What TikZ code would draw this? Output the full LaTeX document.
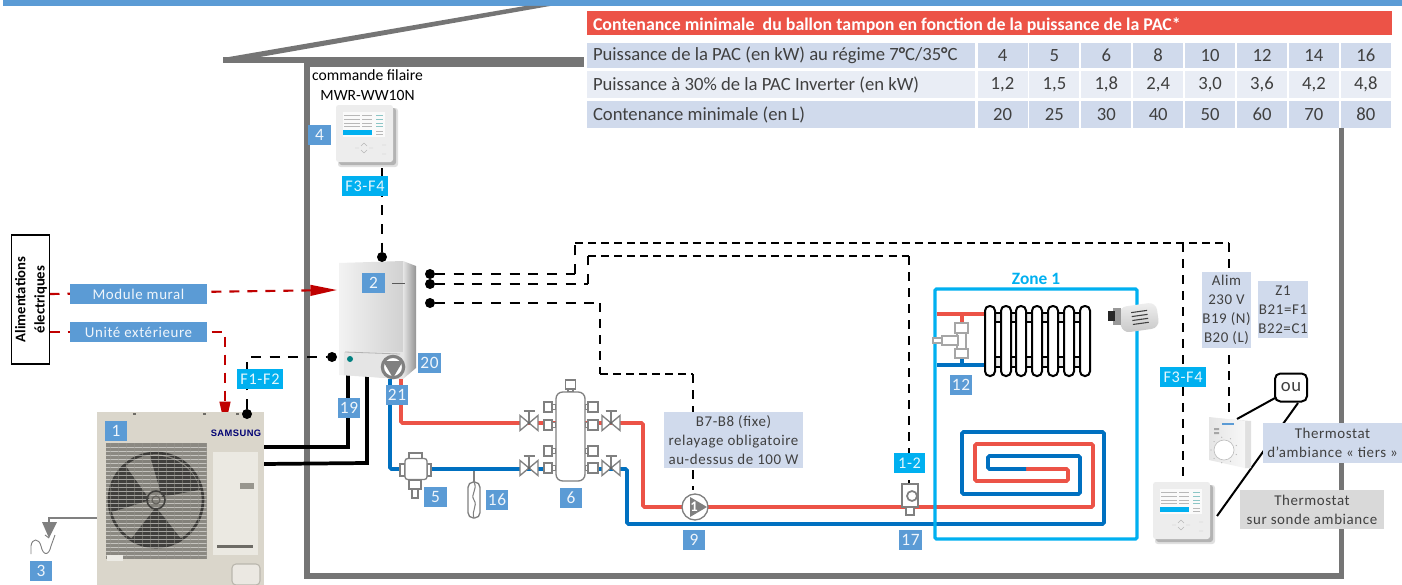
\documentclass[tikz,border=0pt]{standalone}
\usepackage{fontspec}
\setmainfont{Carlito}
\newfontfamily\spacedfont[LetterSpace=4]{Carlito}
\newfontfamily\brandfont[LetterSpace=5]{Liberation Sans}
\usetikzlibrary{arrows.meta,shapes.geometric}
\pgfdeclarelayer{lines}
\pgfsetlayers{lines,main}
\definecolor{lblblue}{HTML}{5B9BD5}
\definecolor{lblcyan}{HTML}{00B0F0}
\definecolor{lblpale}{HTML}{D0DAEC}
\definecolor{lblgrey}{HTML}{D9D9D9}
\definecolor{rowpale}{HTML}{E9EDF5}
\definecolor{hotred}{HTML}{EC5347}
\definecolor{coldblue}{HTML}{0070C0}
\definecolor{wallgrey}{HTML}{757575}
\definecolor{partgrey}{HTML}{808080}
\definecolor{darktext}{HTML}{404040}
\definecolor{feedred}{HTML}{C00000}
\definecolor{unitbeige}{HTML}{DAD6CB}
\newcommand{\boxlab}[7]{\node[#1,minimum width={(#5-#3)*0.75pt},minimum height={(#6-#4)*0.75pt}] (#2) at ({(#3+#5)/2},{(#4+#6)/2}) {#7};}
\tikzset{
  x=0.75pt,y=-0.75pt,
  every node/.style={inner sep=0pt,outer sep=0pt,align=center},
  numlab/.style={rectangle,fill=lblblue,text=white!90!lblblue,font=\spacedfont\fontsize{13}{15}\selectfont},
  widelab/.style={rectangle,fill=lblblue,text=white!90!lblblue,font=\spacedfont\fontsize{11.2}{14}\selectfont},
  buslab/.style={rectangle,fill=lblcyan,text=white!90!lblcyan,font=\spacedfont\fontsize{12.2}{14}\selectfont},
  palelab/.style={rectangle,fill=lblpale,text=darktext,font=\spacedfont\fontsize{11.2}{14.3}\selectfont},
  greylab/.style={rectangle,fill=lblgrey,text=darktext,font=\spacedfont\fontsize{11.2}{14.3}\selectfont},
  tabhead/.style={rectangle,fill=hotred,text=white},
  tabcell/.style={rectangle,text=darktext,font=\fontsize{14}{16}\selectfont},
  dot/.style={circle,fill=black,minimum size=7.5pt},
  wirea/.style={black,line width=1.8pt,dash pattern=on 7.5pt off 6.5pt},
  wireb/.style={black,line width=1.3pt,dash pattern=on 6pt off 3.8pt},
  wirec/.style={black,line width=1.6pt,dash pattern=on 6.5pt off 5.5pt},
  feed/.style={feedred,line width=1.6pt,dash pattern=on 7.5pt off 6pt},
  hot/.style={hotred,line width=2.7pt,rounded corners=1pt},
  cold/.style={coldblue,line width=2.7pt,rounded corners=1pt},
  fridge/.style={black,line width=2.8pt},
  part/.style={draw=partgrey,line width=1pt,fill=white},
  partr/.style={draw=partgrey,line width=1pt,fill=white,rounded corners=2pt},
  ctrlpic/.pic={
    \fill[black,opacity=.12,rounded corners=2pt] (2,3) rectangle (62,62);
    \fill[black,opacity=.2,rounded corners=2pt] (3,3) rectangle (60,60);
    \fill[white!93!black,rounded corners=2pt] (0,0) rectangle (57,57);
    \fill[white!98!black] (7,7) rectangle (49,32);
    \fill[lblcyan] (7,25) rectangle (36,30);
    \foreach \yy in {10,14,18,21}{
      \draw[black!28,line width=.3pt] (8,\yy) -- (24,\yy);
      \draw[black!28,line width=.3pt] (26,\yy) -- (36,\yy);
      \draw[teal!45,line width=.3pt] (40,\yy) -- (47,\yy);
    }
    \draw[black!28,line width=.3pt] (40,26) -- (47,26) (40,29) -- (47,29);
    \draw[black!28,line width=.35pt] (28,38) -- (25,41) (28,38) -- (31,41) (28,48) -- (25,45) (28,48) -- (31,45) (19,43) -- (23,43) (33,43) -- (37,43) (46,40) -- (50,40) (46,49) -- (50,49);
  },
  valvepic/.pic={
    \draw[part,line join=miter] (-9,-7.5) -- (9,7.5) -- (9,-7.5) -- (-9,7.5) -- cycle;
    \draw[partgrey,line width=1pt] (0,0) -- (0,-12) (-5.5,-12) -- (5.5,-12);
    \fill[black!60] (0,0) circle (1.6);
  },
}
\begin{document}
\begin{tikzpicture}
\useasboundingbox (0,0) rectangle (1402,585);

% ---------- anchor points of the wiring
\coordinate (c4out) at (382,168);
\coordinate (bendA) at (575,274);
\coordinate (bendA2) at (575,243);
\coordinate (teeA) at (1183,243);
\coordinate (cornerA) at (1229,243);
\coordinate (bendB) at (588,284);
\coordinate (bendB2) at (588,256);
\coordinate (cornerB) at (909,256);
\coordinate (bendC) at (600,303);
\coordinate (bendC2) at (600,374);
\coordinate (cornerC) at (693,374);

% ---------- outdoor unit
\fill[unitbeige] (97,412) rectangle (264,585);
\fill[black!36!unitbeige] (106,443) rectangle (207,559);
\fill[black!40!unitbeige] (156,500) circle (48);
\draw[black!72!unitbeige,line width=2pt] (156,500) circle (47);
\fill[black!70!unitbeige] (150,456) arc (263:345:46) -- (162,497) -- cycle;
\fill[black!70!unitbeige] (112,512) arc (165:228:46) -- (150,500) -- cycle;
\fill[black!70!unitbeige] (182,540) arc (58:125:46) -- (156,507) -- cycle;
\foreach \yy in {447,451,...,557}{\draw[white!75!unitbeige,line width=.55pt,opacity=.55] (106,\yy) -- (207,\yy);}
\foreach \xx in {110,118,...,206}{\draw[black!30!unitbeige,line width=.4pt,opacity=.5] (\xx,443) -- (\xx,559);}
\draw[black!70!unitbeige,line width=1.2pt] (156,500) circle (9);
\draw[black!55!unitbeige,line width=.8pt] (156,500) circle (4);
\fill[white!45!unitbeige] (213,452) rectangle (258,555);
\fill[black!30!unitbeige] (240,483) rectangle (254,489);
\fill[black!50!unitbeige] (217,545) rectangle (253,548);
\draw[black!15!unitbeige,line width=.8pt,fill=white!45!unitbeige,rounded corners=3pt] (232,564) rectangle (260,585);
\fill[white!50!unitbeige] (107,555) rectangle (123,561);
\foreach \xx in {133,203,236}{\fill[black!50!unitbeige] (\xx,413) rectangle +(3,2);}
\node[font=\brandfont\bfseries\fontsize{7}{8}\selectfont,text=blue!45!black] (brand) at (236,433) {SAMSUNG};

% ---------- indoor wall module
\shade[left color=white!95!black,right color=white!82!black] (339,263) -- (403,261) -- (403,379) -- (339,375) -- cycle;
\shade[left color=white!90!black,right color=black!42] (403,261) -- (416,266) -- (416,368) -- (403,379) -- cycle;
\fill[white!90!black] (344,352) -- (403,352) -- (403,379) -- (344,375) -- cycle;
\draw[black!30,line width=.6pt] (345,352) -- (400,354);
\fill[teal] (350,359) circle (3);
\draw[black!65,line width=.7pt] (392,283) -- (405,283);
\node[circle,draw=partgrey,line width=2.4pt,fill=white,minimum size=16pt] (pumpA) at (393,367) {};
\fill[partgrey] (383,361) -- (403,361) -- (393,378) -- cycle;

% ---------- controller and room thermostats
\pic at (336,105) {ctrlpic};
\pic at (1153,482) {ctrlpic};
\fill[black!12] (1212,418) -- (1251,421) -- (1251,468) -- (1245,468) -- (1245,421) -- cycle;
\shade[left color=white!90!black,right color=white!97!black] (1209,417) -- (1245,421) -- (1245,468) -- (1209,460) -- cycle;
\draw[black!25,line width=.5pt,fill=white] (1224,450) circle (10);
\fill[black!35] (1214,428) rectangle (1219,430) (1214,432) rectangle (1219,434);
\fill[lblblue] (1222,423) rectangle (1234,425);
\foreach \ang in {20,60,...,340}{\fill[black!30] (1224,450) ++(\ang:13) circle (.6);}

% ---------- hydraulic parts
\node[part,rectangle,minimum width=7.5pt,minimum height=6.7pt] (capM) at (570.5,384.5) {};
\foreach \yy in {407,425,451,468}{
  \draw[part] (552,\yy-2.5) rectangle (556,\yy+2.5);
  \draw[part] (585,\yy-2.5) rectangle (588,\yy+2.5);
  \draw[part] (544,\yy-5) rectangle (552,\yy+5);
  \draw[part] (588,\yy-5) rectangle (598,\yy+5);
}
\draw[part] (568,389) rectangle (573,392);
\node[part,rectangle,rounded corners=5pt,minimum width=21.75pt,minimum height=66.75pt] (tank) at (570.5,436.5) {};
\pic at (529,423) {valvepic};
\pic at (611,423) {valvepic};
\pic at (529,468) {valvepic};
\pic at (611,468) {valvepic};
\coordinate (vTL) at (529,423);
\coordinate (vTR) at (611,423);
\coordinate (vBL) at (529,469);
\coordinate (vBR) at (611,469);

\draw[part] (409,453) rectangle (422,459);
\draw[part] (400,464) rectangle (405,476);
\draw[part] (427,464) rectangle (431,476);
\draw[part] (412,489) rectangle (418,498);
\draw[part] (409,480) rectangle (421,489);
\node[partr,rectangle,minimum width=16.5pt,minimum height=15.75pt] (mixer) at (416,469) {};

\draw[partgrey,line width=1pt] (474,471) -- (474,482);
\node[part,rectangle,rounded corners=4pt,minimum width=9pt,minimum height=27pt] (expan) at (474,500) {};
\draw[partgrey,line width=.8pt] (474,482) .. controls (478,490) and (470,494) .. (474,500) .. controls (478,506) and (471,511) .. (474,518);

\node[part,circle,minimum size=19.5pt] (pumpB) at (695,507) {};
\fill[partgrey] (690,497) -- (707,507) -- (690,517) -- cycle;
\node[text=white,font=\bfseries\fontsize{11}{12}\selectfont] (pumpnum) at (694,507) {1};

\node[part,rectangle,line width=1.3pt,minimum width=12pt,minimum height=17pt] (sensor) at (910,495.5) {};
\draw[part,line width=1.3pt] (906,507) rectangle (914,515);
\draw[part,line width=1.3pt] (912,496) circle (5);
\coordinate (sensorTop) at (909,484);

% radiator
\draw[black,line width=1.4pt,fill=white!92!black] (990,313) rectangle (1085,322);
\draw[black,line width=1.4pt,fill=white!92!black] (990,357) rectangle (1085,367);
\foreach \xx in {990,1006,1021,1037,1053,1069,1085}{
  \draw[black,line width=1.5pt,fill=white,rounded corners=3.5pt] (\xx-5,306) rectangle (\xx+5,376);
}
\coordinate (radTop) at (985,314);
\coordinate (radBot) at (985,365);
\coordinate (zoneTop) at (937,314);
\coordinate (zoneBot) at (937,365);
\draw[draw=black!35,line width=1.2pt,fill=white] (955,323) rectangle (968,333);
\draw[draw=black!35,line width=1.2pt,fill=white] (957,333) rectangle (966,349);
\draw[draw=black!35,line width=1.2pt,fill=white] (955,349) rectangle (968,358);
\draw[draw=black!35,line width=1.2pt,fill=white] (942,336) rectangle (958,345);
\draw[draw=black!35,line width=1.2pt,fill=white] (933,338) rectangle (942,343);
\coordinate (radvT) at (962,323);
\coordinate (radvB) at (962,358);

% thermostatic head
\begin{scope}[rotate around={8:(1136,318)}]
\shade[top color=white!94!black,bottom color=white!78!black,rounded corners=6pt] (1120,305) rectangle (1158,331);
\foreach \yy in {312,316,320,324}{\draw[black!75,line width=.8pt] (1132,\yy) -- (1148,\yy);}
\end{scope}
\fill[black!40] (1113,308) rectangle (1121,325);
\fill[black!85] (1108,311) rectangle (1115,321);

% ---------- dots
\node[dot] (dTop) at (382,257) {};
\node[dot] (d1) at (430,274) {};
\node[dot] (d2) at (430,284) {};
\node[dot] (d3) at (430,303) {};
\node[dot] (dF) at (332,357) {};
\node[dot] (dU) at (247,414) {};

% ---------- labels
\node[rectangle,draw=black,line width=1.2pt,fill=white,minimum width=28.5pt,minimum height=96.5pt] (alim) at (30.5,299.5) {};
\node[rotate=90,text=black,font=\fontsize{11}{14.5}\selectfont\bfseries] (alimtxt) at (31,299.5) {Alimentations\\électriques};
\boxlab{widelab}{lMod}{70}{284}{207}{304}{Module mural}
\boxlab{widelab}{lUni}{70}{322}{207}{342}{Unité extérieure}
\boxlab{numlab}{n1}{105}{421}{127}{441}{1}
\boxlab{numlab}{n2}{362}{273}{385}{293}{2}
\boxlab{numlab}{n3}{30}{561}{52}{581}{3}
\boxlab{numlab}{n4}{308}{125}{331}{145}{4}
\boxlab{numlab}{n5}{424}{487}{447}{507}{5}
\boxlab{numlab}{n6}{560}{488}{582}{508}{6}
\boxlab{numlab}{n9}{683}{530}{705}{550}{9}
\boxlab{numlab}{n12}{950}{375}{972}{395}{12}
\boxlab{numlab}{n16}{486}{490}{508}{510}{16}
\boxlab{numlab}{n17}{899}{530}{922}{550}{17}
\boxlab{numlab}{n19}{338}{398}{360}{418}{19}
\boxlab{numlab}{n20}{418}{353}{441}{373}{20}
\boxlab{numlab}{n21}{386}{385}{408}{405}{21}
\boxlab{buslab}{bF34}{342}{176}{388}{196}{F3-F4}
\boxlab{buslab}{bF12}{237}{369}{283}{389}{F1-F2}
\boxlab{buslab}{b12}{894}{453}{925}{473}{1-2}
\boxlab{buslab}{bF34r}{1160}{367}{1206}{387}{F3-F4}
\boxlab{palelab}{lB78}{664}{412}{803}{468}{B7-B8 (fixe)\\relayage obligatoire\\au-dessus de 100 W}
\boxlab{palelab}{lAlim}{1202}{272}{1251}{348}{Alim\\230 V\\B19 (N)\\B20 (L)}
\boxlab{palelab}{lZ1}{1258}{281}{1308}{338}{Z1\\B21=F1\\B22=C1}
\boxlab{palelab}{lTiers}{1263}{423}{1402}{463}{Thermostat\\d’ambiance « tiers »}
\boxlab{greylab}{lSonde}{1240}{490}{1384}{529}{Thermostat\\sur sonde ambiance}
\node[rectangle,draw=black,line width=1.5pt,rounded corners=4pt,fill=white,minimum width=24pt,minimum height=21pt,text=darktext,font=\spacedfont\fontsize{14}{16}\selectfont] (ou) at (1291,387.5) {ou};
\node[text=black,font=\fontsize{11.7}{14}\selectfont] (cmd) at (367.5,85) {commande filaire\\[.6pt]MWR-WW10N};
\node[text=lblcyan,font=\bfseries\fontsize{13}{15}\selectfont] (zone) at (1036,279) {Zone 1};

% ---------- table
\boxlab{tabhead}{tHead}{587}{11}{1392}{35}{}
\node[anchor=west,text=white,font=\bfseries\fontsize{13.4}{15}\selectfont] (tHeadTxt) at (593,25.5) {Contenance minimale\ \ du ballon tampon en fonction de la puissance de la PAC*};
\boxlab{tabcell,fill=lblpale}{r1}{587}{43}{975}{68}{}
\boxlab{tabcell,fill=rowpale}{r2}{587}{71}{975}{98}{}
\boxlab{tabcell,fill=lblpale}{r3}{587}{101}{975}{128}{}
\node[tabcell,anchor=west] (r1t) at (593,55.5) {Puissance de la PAC (en kW) au régime 7{\bfseries °}C/35{\bfseries °}C};
\node[tabcell,anchor=west] (r2t) at (593,85) {Puissance à 30\% de la PAC Inverter (en kW)};
\node[tabcell,anchor=west] (r3t) at (593,115) {Contenance minimale (en L)};
\foreach \v [count=\i] in {4,5,6,8,10,12,14,16}{
  \pgfmathsetmacro{\xa}{977.5+(\i-1)*51.9}
  \pgfmathsetmacro{\xb}{\xa+50}
  \boxlab{tabcell,fill=lblpale}{ca\i}{\xa}{43}{\xb}{68}{\v}
}
\foreach \v [count=\i] in {{1,2},{1,5},{1,8},{2,4},{3,0},{3,6},{4,2},{4,8}}{
  \pgfmathsetmacro{\xa}{977.5+(\i-1)*51.9}
  \pgfmathsetmacro{\xb}{\xa+50}
  \boxlab{tabcell,fill=rowpale}{cb\i}{\xa}{71}{\xb}{98}{\v}
}
\foreach \v [count=\i] in {20,25,30,40,50,60,70,80}{
  \pgfmathsetmacro{\xa}{977.5+(\i-1)*51.9}
  \pgfmathsetmacro{\xb}{\xa+50}
  \boxlab{tabcell,fill=lblpale}{cc\i}{\xa}{101}{\xb}{128}{\v}
}

% ---------- everything under the nodes
\begin{pgfonlayer}{lines}
  \fill[white] (0,0) rectangle (1402,585);
  \fill[lblblue] (3,0) rectangle (1402,6);
  % house
  \fill[wallgrey] (223,58) -- (525,6) -- (550,6) -- (260,57) -- cycle;
  \fill[wallgrey] (223,57) rectangle (584,63);
  \fill[wallgrey] (304,57) rectangle (584,67);
  \fill[wallgrey] (304,57) rectangle (310,579);
  \fill[wallgrey] (304,573) rectangle (1344,579);
  \fill[wallgrey] (1339,128) rectangle (1344,579);
  % feeds
  \draw[feed,-{Triangle[length=20pt,width=8pt]}] (alim.east |- lMod) -- (337,290);
  \draw[feed,-{Triangle[length=19pt,width=8pt]}] (alim.east |- lUni) -| (225,427);
  % drain
  \draw[partgrey,line width=1.1pt] (106,518) -- (49,518) -- (49,524);
  \fill[partgrey] (42,522) -- (57,522) -- (49,538) -- cycle;
  \draw[partgrey,line width=.7pt] (31,554) -- (31,546) .. controls (32,538) and (39,538) .. (41,546) .. controls (43,556) and (49,556) .. (51,546) -- (55,535) (49,538) -- (45,535);
  % refrigerant
  \draw[fridge] (262,447) -- (348,447) -- (348,374);
  \draw[fridge] (263,464) -- (367,463) -- (367,375);
  % wiring
  \draw[wirea] (c4out) -- (dTop);
  \draw[wirea] (dU) |- (dF);
  \draw[wirea] (d1) -- (bendA);
  \draw[wirea] (bendA) -- (bendA2);
  \draw[wireb] (bendA2) -- (cornerA);
  \draw[wirec] (cornerA) -- (1229,417);
  \draw[wirec] (teeA) -- (1183,480);
  \draw[wirea] (d2) -- (bendB);
  \draw[wirea] (bendB) -- (bendB2);
  \draw[wireb] (bendB2) -- (cornerB);
  \draw[wirec] (cornerB) -- (sensorTop);
  \draw[wirea] (d3) -- (bendC);
  \draw[wirec] (bendC) -- (bendC2);
  \draw[wireb] (bendC2) -- (cornerC);
  \draw[wirec] (cornerC) -- (693,490);
  % ou links
  \draw[black,line width=1.5pt] (ou.west |- 0,398) -- (1237,419);
  \draw[black,line width=1.5pt] (1298,403) -- (1217,516);
  % pipes
  \draw[hot] (401,379) |- (vTL) -- (vTR) -| (643,507) -- (pumpB);
  \draw[hot] (pumpB) -- (1093,507) -- (1093,444) -- (975,444) -- (975,481) -- (1068,481) -- (1068,469) -- (1026,469);
  \draw[cold] (390,379) |- (mixer);
  \draw[cold] (mixer) -- (vBL) -- (vBR) -| (627,524) -- (1104,524) -- (1104,432) -- (962,432) -- (962,494) -- (1080,494) -- (1080,456) -- (988,456) -- (988,469) -- (1026,469);
  \draw[hot] (zoneTop) -- (radTop);
  \draw[hot] (radvT) -- (962,314);
  \draw[cold] (zoneBot) -- (radBot);
  \draw[cold] (radvB) -- (962,365);
  % zone
  \draw[lblcyan,line width=2.4pt,rounded corners=1pt] (935,289) rectangle (1137,539);
\end{pgfonlayer}
\end{tikzpicture}
\end{document}
